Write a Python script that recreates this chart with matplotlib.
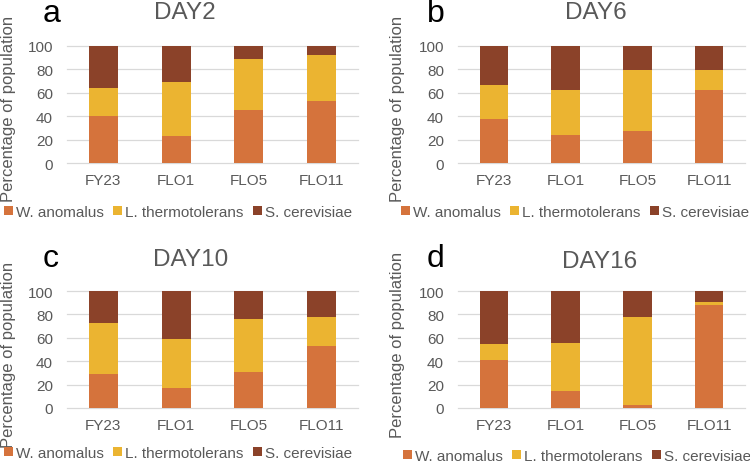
import numpy as np
import matplotlib
matplotlib.use("Agg")
import matplotlib.pyplot as plt
from matplotlib.patches import Patch

plt.rcParams['font.family'] = ['Liberation Sans', 'DejaVu Sans']

strains = ['FY23', 'FLO1', 'FLO5', 'FLO11']
species = ['W. anomalus', 'L. thermotolerans', 'S. cerevisiae']
days = ['DAY2', 'DAY6', 'DAY10', 'DAY16']
panel_letters = ['a', 'b', 'c', 'd']

# percentages (W. anomalus, L. thermotolerans); S. cerevisiae is the rest up to 100
w_anomalus = {
    'DAY2': [39.8, 23.0, 45.2, 53.1],
    'DAY6': [37.5, 23.9, 27.3, 62.5],
    'DAY10': [28.8, 16.8, 30.8, 53.0],
    'DAY16': [41.3, 14.5, 2.8, 88.3],
}
l_thermo = {
    'DAY2': [23.8, 46.0, 43.7, 39.2],
    'DAY6': [29.0, 38.3, 52.0, 16.8],
    'DAY10': [44.1, 42.5, 45.3, 25.1],
    'DAY16': [13.1, 40.8, 75.0, 2.0],
}

colors = ['#D5733C', '#EBB431', '#8B4229']
text_gray = '#595959'

fig = plt.figure(figsize=(7.5, 4.64), dpi=100)
W, H = 750.0, 464.0

# pixel layout: (axes left, axes right, y of 100, y of 0)
layout = [
    (67, 358, 46.7, 164),
    (458, 745, 46.7, 164),
    (67, 358, 292, 409),
    (458, 745, 292, 409),
]
title_pos = [(185, 19), (596, 19), (191, 266), (600, 268)]
letter_pos = [(52, 22), (436, 22), (51, 267), (436, 267)]
ylabel_pos = [(9, 109), (398, 109), (9, 355), (398, 345)]
legend_pos = [(178, 213), (575, 213), (178, 454), (577, 457)]

for i, day in enumerate(days):
    x0, x1, ytop, ybot = layout[i]
    ax = fig.add_axes([x0 / W, 1 - ybot / H, (x1 - x0) / W, (ybot - ytop) / H])
    w = np.array(w_anomalus[day])
    l = np.array(l_thermo[day])
    s = 100 - w - l
    x = np.arange(len(strains))
    ax.bar(x, w, width=0.4, color=colors[0], zorder=3)
    ax.bar(x, l, width=0.4, bottom=w, color=colors[1], zorder=3)
    ax.bar(x, s, width=0.4, bottom=w + l, color=colors[2], zorder=3)
    ax.set_xlim(-0.5, 3.5)
    ax.set_ylim(0, 100)
    ax.set_yticks([0, 20, 40, 60, 80, 100])
    ax.set_xticks(x)
    ax.set_xticklabels(strains)
    for yv in [20, 40, 60, 80, 100]:
        ax.axhline(yv, color='#D9D9D9', lw=0.9, zorder=1, clip_on=False)
    for sp in ['top', 'right', 'left']:
        ax.spines[sp].set_visible(False)
    ax.spines['bottom'].set_color('#D9D9D9')
    ax.spines['bottom'].set_linewidth(0.9)
    ax.tick_params(axis='both', length=0, colors=text_gray, labelsize=11)
    ax.tick_params(axis='y', pad=10)
    ax.tick_params(axis='x', pad=7)

    tx, ty = title_pos[i]
    fig.text(tx / W, 1 - ty / H, day, ha='center', va='baseline', fontsize=17.5, color=text_gray)
    lx, ly = letter_pos[i]
    fig.text(lx / W, 1 - ly / H, panel_letters[i], ha='center', va='baseline', fontsize=23, color='black')
    yx, yy = ylabel_pos[i]
    fig.text(yx / W, 1 - yy / H, 'Percentage of population', ha='center', va='center',
             rotation=90, fontsize=12, color=text_gray)

    handles = [Patch(facecolor=c, edgecolor='none') for c in colors]
    gx, gy = legend_pos[i]
    leg = fig.legend(handles, species, loc='center', bbox_to_anchor=(gx / W, 1 - gy / H),
                     ncol=3, frameon=False, fontsize=11, handlelength=0.6, handleheight=0.6,
                     handletextpad=0.2, columnspacing=0.6, borderpad=0)
    for t in leg.get_texts():
        t.set_color(text_gray)

fig.savefig('out.png', dpi=100)
